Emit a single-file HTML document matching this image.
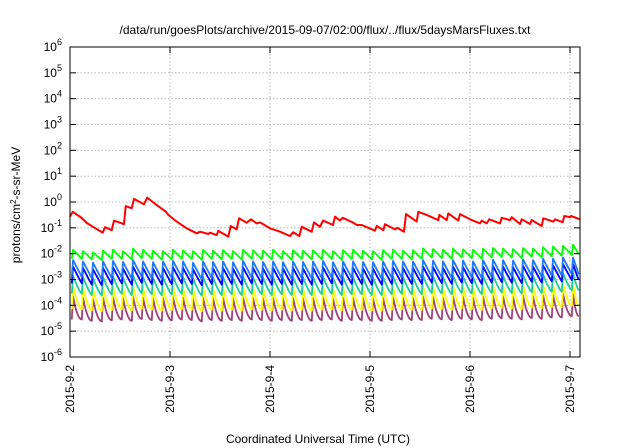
<!DOCTYPE html>
<html><head><meta charset="utf-8"><style>
body{margin:0;background:#fff}
svg{display:block;font-family:"Liberation Sans",sans-serif}
</style></head><body>
<svg id="chart" width="640" height="448" viewBox="0 0 640 448" xmlns="http://www.w3.org/2000/svg">
<rect width="640" height="448" fill="#fff"/>
<text x="325" y="34" font-size="12" text-anchor="middle">/data/run/goesPlots/archive/2015-09-07/02:00/flux/../flux/5daysMarsFluxes.txt</text>
<text x="318" y="443" font-size="12" text-anchor="middle">Coordinated Universal Time (UTC)</text>
<text transform="translate(20,205) rotate(-90)" font-size="12" text-anchor="middle">protons/cm<tspan dy="-4" font-size="8">2</tspan><tspan dy="4">-s-sr-MeV</tspan></text>
<g id="grid"></g><g id="series"></g><g id="axes"></g>
</svg>
<script>
const xTickLabels=["2015-9-2","2015-9-3","2015-9-4","2015-9-5","2015-9-6","2015-9-7"];
const yTickExps=[-6,-5,-4,-3,-2,-1,0,1,2,3,4,5,6];
const redTimes=[0,0.027,0.117,0.167,0.23,0.327,0.35,0.417,0.44,0.54,0.557,0.617,0.64,0.74,0.773,0.867,0.96,0.983,1.067,1.167,1.267,1.3,1.383,1.4,1.467,1.483,1.583,1.607,1.667,1.69,1.767,1.81,1.867,1.9,2.0,2.1,2.2,2.233,2.293,2.317,2.417,2.44,2.5,2.53,2.63,2.65,2.7,2.727,2.833,2.867,2.917,3.05,3.067,3.133,3.15,3.25,3.273,3.34,3.36,3.467,3.483,3.567,3.683,3.693,3.767,3.783,3.883,3.9,4.0,4.1,4.117,4.167,4.193,4.3,4.317,4.4,4.417,4.5,4.517,4.6,4.617,4.717,4.733,4.833,4.85,4.927,4.943,5.0,5.01,5.1];
const redLog=[-0.57,-0.38,-0.62,-0.81,-0.96,-1.19,-0.97,-1.09,-0.72,-0.86,-0.16,-0.24,0.12,-0.09,0.17,-0.12,-0.38,-0.5,-0.76,-1.02,-1.21,-1.15,-1.24,-1.19,-1.28,-1.12,-1.34,-0.93,-1.06,-0.63,-0.8,-0.67,-0.83,-0.79,-1.02,-1.15,-1.32,-1.17,-1.32,-0.96,-1.15,-0.79,-0.96,-0.72,-0.89,-0.57,-0.72,-0.61,-0.8,-0.89,-0.89,-1.11,-0.93,-1.09,-0.86,-1.06,-1.0,-1.15,-0.47,-0.76,-0.38,-0.5,-0.7,-0.5,-0.7,-0.44,-0.72,-0.47,-0.67,-0.83,-0.72,-0.83,-0.67,-0.83,-0.61,-0.7,-0.59,-0.85,-0.67,-0.85,-0.7,-0.93,-0.63,-0.76,-0.67,-0.78,-0.54,-0.59,-0.54,-0.67];
const greenPeak=[-1.85,-1.9,-1.95,-1.88,-1.85,-1.9,-1.8,-1.85,-1.88,-1.9,-1.85,-1.87,-1.9,-1.85,-1.88,-1.86,-1.9,-1.85,-1.87,-1.88,-1.85,-1.9,-1.86,-1.88,-1.87,-1.85,-1.9,-1.86,-1.85,-1.88,-1.9,-1.86,-1.85,-1.88,-1.87,-1.8,-1.82,-1.85,-1.8,-1.83,-1.85,-1.8,-1.78,-1.8,-1.82,-1.78,-1.8,-1.75,-1.72,-1.7,-1.65];
const greenLow=[-2.2,-2.22,-2.25,-2.2,-2.2,-2.22,-2.18,-2.2,-2.23,-2.22,-2.2,-2.2,-2.24,-2.2,-2.22,-2.2,-2.23,-2.2,-2.21,-2.22,-2.2,-2.24,-2.2,-2.22,-2.21,-2.2,-2.24,-2.2,-2.2,-2.22,-2.24,-2.2,-2.2,-2.22,-2.2,-2.15,-2.17,-2.2,-2.15,-2.17,-2.2,-2.15,-2.13,-2.15,-2.17,-2.12,-2.15,-2.1,-2.08,-2.05,-2.02];
const lblueBumpPeak=[-2.25,-2.3,-2.35,-2.3,-2.28,-2.32,-2.25,-2.3,-2.33,-2.3,-2.28,-2.3,-2.35,-2.3,-2.32,-2.3,-2.33,-2.28,-2.3,-2.32,-2.3,-2.33,-2.3,-2.32,-2.3,-2.28,-2.33,-2.3,-2.3,-2.32,-2.33,-2.3,-2.28,-2.3,-2.3,-2.25,-2.27,-2.3,-2.25,-2.27,-2.3,-2.25,-2.23,-2.25,-2.27,-2.22,-2.25,-2.2,-2.2,-2.15,-2.15];
const lblueLow=[-2.9,-2.95,-3.0,-2.95,-2.92,-2.97,-2.9,-2.95,-2.98,-2.95,-2.92,-2.95,-3.0,-2.95,-2.97,-2.95,-2.98,-2.93,-2.95,-2.97,-2.95,-2.98,-2.95,-2.97,-2.95,-2.93,-2.98,-2.95,-2.95,-2.97,-2.98,-2.95,-2.93,-2.95,-2.95,-2.9,-2.92,-2.95,-2.9,-2.92,-2.95,-2.9,-2.88,-2.9,-2.92,-2.87,-2.9,-2.85,-2.85,-2.8,-2.8];
const bluePeak=[-2.5,-2.55,-2.6,-2.55,-2.53,-2.57,-2.5,-2.55,-2.58,-2.55,-2.53,-2.55,-2.6,-2.55,-2.57,-2.55,-2.58,-2.53,-2.55,-2.57,-2.55,-2.58,-2.55,-2.57,-2.55,-2.53,-2.58,-2.55,-2.55,-2.57,-2.58,-2.55,-2.53,-2.55,-2.55,-2.5,-2.52,-2.55,-2.5,-2.52,-2.55,-2.5,-2.48,-2.5,-2.52,-2.47,-2.5,-2.45,-2.45,-2.4,-2.4];
const blueLow=[-3.15,-3.2,-3.22,-3.18,-3.15,-3.2,-3.13,-3.17,-3.2,-3.18,-3.15,-3.17,-3.22,-3.17,-3.2,-3.17,-3.2,-3.15,-3.17,-3.2,-3.17,-3.2,-3.17,-3.2,-3.17,-3.15,-3.2,-3.17,-3.17,-3.2,-3.2,-3.17,-3.15,-3.17,-3.17,-3.12,-3.14,-3.17,-3.12,-3.14,-3.17,-3.12,-3.1,-3.12,-3.14,-3.09,-3.12,-3.07,-3.07,-3.02,-3.02];
const tealPeak=[-2.85,-2.9,-2.95,-2.9,-2.88,-2.92,-2.85,-2.9,-2.93,-2.9,-2.88,-2.9,-2.95,-2.9,-2.92,-2.9,-2.93,-2.88,-2.9,-2.92,-2.9,-2.93,-2.9,-2.92,-2.9,-2.88,-2.93,-2.9,-2.9,-2.92,-2.93,-2.9,-2.88,-2.9,-2.9,-2.85,-2.87,-2.9,-2.85,-2.87,-2.9,-2.85,-2.83,-2.85,-2.87,-2.82,-2.85,-2.8,-2.8,-2.75,-2.75];
const tealLow=[-3.55,-3.6,-3.62,-3.58,-3.55,-3.6,-3.53,-3.57,-3.6,-3.58,-3.55,-3.57,-3.62,-3.57,-3.6,-3.57,-3.6,-3.55,-3.57,-3.6,-3.57,-3.6,-3.57,-3.6,-3.57,-3.55,-3.6,-3.57,-3.57,-3.6,-3.6,-3.57,-3.55,-3.57,-3.57,-3.52,-3.54,-3.57,-3.52,-3.54,-3.57,-3.52,-3.5,-3.52,-3.54,-3.49,-3.52,-3.47,-3.47,-3.42,-3.42];
const yellowPeak=[-3.25,-3.3,-3.35,-3.3,-3.28,-3.32,-3.25,-3.3,-3.33,-3.3,-3.28,-3.3,-3.35,-3.3,-3.32,-3.3,-3.33,-3.28,-3.3,-3.32,-3.3,-3.33,-3.3,-3.32,-3.3,-3.28,-3.33,-3.3,-3.3,-3.32,-3.33,-3.3,-3.28,-3.3,-3.3,-3.25,-3.27,-3.3,-3.25,-3.27,-3.3,-3.25,-3.23,-3.25,-3.27,-3.22,-3.25,-3.2,-3.2,-3.15,-3.15];
const yellowLow=[-4.15,-4.2,-4.22,-4.18,-4.15,-4.2,-4.13,-4.17,-4.2,-4.18,-4.15,-4.17,-4.22,-4.17,-4.2,-4.17,-4.2,-4.15,-4.17,-4.2,-4.17,-4.2,-4.17,-4.2,-4.17,-4.15,-4.2,-4.17,-4.17,-4.2,-4.2,-4.17,-4.15,-4.17,-4.17,-4.12,-4.14,-4.17,-4.12,-4.14,-4.17,-4.12,-4.1,-4.12,-4.14,-4.09,-4.12,-4.07,-4.07,-4.02,-4.02];
const purplePeak=[-3.65,-3.7,-3.75,-3.7,-3.68,-3.72,-3.65,-3.7,-3.73,-3.7,-3.68,-3.7,-3.75,-3.7,-3.72,-3.7,-3.73,-3.68,-3.7,-3.72,-3.7,-3.73,-3.7,-3.72,-3.7,-3.68,-3.73,-3.7,-3.7,-3.72,-3.73,-3.7,-3.68,-3.7,-3.7,-3.65,-3.67,-3.7,-3.65,-3.67,-3.7,-3.65,-3.63,-3.65,-3.67,-3.62,-3.65,-3.6,-3.6,-3.55,-3.55];
const purpleLow=[-4.55,-4.6,-4.62,-4.58,-4.55,-4.6,-4.53,-4.57,-4.6,-4.58,-4.55,-4.57,-4.62,-4.57,-4.6,-4.57,-4.6,-4.55,-4.57,-4.6,-4.57,-4.6,-4.57,-4.6,-4.57,-4.55,-4.6,-4.57,-4.57,-4.6,-4.6,-4.57,-4.55,-4.57,-4.57,-4.52,-4.54,-4.57,-4.52,-4.54,-4.57,-4.52,-4.5,-4.52,-4.54,-4.49,-4.52,-4.47,-4.47,-4.42,-4.42];
const cycleStart=0.03, cyclePeriod=0.1, tMax=5.1;

const NS="http://www.w3.org/2000/svg";
const L=70,R=580,T=47,B=357;
function xs(t){return L+t*(R-L)/tMax;}
function ys(lg){return B-(lg+6)*(B-T)/12;}
function mk(tag,attrs,parent){const e=document.createElementNS(NS,tag);for(const k in attrs)e.setAttribute(k,attrs[k]);parent.appendChild(e);return e;}
const grid=document.getElementById('grid'),axes=document.getElementById('axes'),ser=document.getElementById('series');
yTickExps.forEach(function(e){
  const y=ys(e);
  if(e>-6&&e<6){const g=mk('line',{x1:L,x2:R,y1:y,y2:y,stroke:'#aaa','stroke-width':0.8,'stroke-dasharray':'1.5,2'},grid);
  
  }
  mk('line',{x1:L,x2:L+6,y1:y,y2:y,stroke:'#000'},axes);
  mk('line',{x1:R,x2:R-6,y1:y,y2:y,stroke:'#000'},axes);
  const t=mk('text',{x:L-8,y:y+4,'font-size':12,'text-anchor':'end'},axes);
  
  
  t.innerHTML='10<tspan dy="-6" font-size="9">'+e+'</tspan>';
});
xTickLabels.forEach(function(lab,i){
  const x=xs(i);
  if(i>0){const g=mk('line',{x1:x,x2:x,y1:T,y2:B,stroke:'#aaa','stroke-width':0.8,'stroke-dasharray':'1.5,2'},grid);
  
  }
  mk('line',{x1:x,x2:x,y1:B,y2:B-6,stroke:'#000'},axes);
  mk('line',{x1:x,x2:x,y1:T,y2:T+6,stroke:'#000'},axes);
  const t=mk('text',{transform:'translate('+(x+4)+',365) rotate(-90)','font-size':12,'text-anchor':'end'},axes);
  
  
  t.textContent=lab;
});
const frame=mk('rect',{x:L,y:T,width:R-L,height:B-T,fill:'none',stroke:'#000'},axes);



function saw(peaks,lows,color,pow,name){
  let d='';
  for(let k=0;k<peaks.length;k++){
    const t0=cycleStart+k*cyclePeriod;
    const tn=Math.min(t0+cyclePeriod,tMax);
    const prevLow=k>0?lows[k-1]:lows[0];
    d+=(k===0?'M':'L')+xs(Math.max(t0-0.012,0)).toFixed(1)+','+ys(prevLow).toFixed(1);
    d+='L'+xs(t0).toFixed(1)+','+ys(peaks[k]).toFixed(1);
    for(let s=1;s<=6;s++){
      const f=s/6,t=t0+(tn-t0-0.012)*f;
      const v=lows[k]+(peaks[k]-lows[k])*Math.pow(1-f,pow);
      d+='L'+xs(t).toFixed(1)+','+ys(v).toFixed(1);
    }
  }
  const p=mk('path',{d:d,fill:'none',stroke:color,'stroke-width':1.8,'stroke-linejoin':'round'},ser);
  
  
}
saw(purplePeak,purpleLow,'#a0407a',2,'series-purple');
saw(yellowPeak,yellowLow,'#ffff00',1.7,'series-yellow');
saw(tealPeak,tealLow,'#1ccca0',1.3,'series-teal');
saw(bluePeak,blueLow,'#0000ff',1.05,'series-blue');
saw(lblueBumpPeak,lblueLow,'#1e78ff',1,'series-light-blue');
saw(greenPeak,greenLow,'#00ff00',1,'series-green');
let rd='';
redTimes.forEach(function(t,i){rd+=(i?'L':'M')+xs(t).toFixed(1)+','+ys(redLog[i]).toFixed(1);});
const rp=mk('path',{d:rd,fill:'none',stroke:'#ff0000','stroke-width':2,'stroke-linejoin':'round'},ser);


</script>
</body></html>
